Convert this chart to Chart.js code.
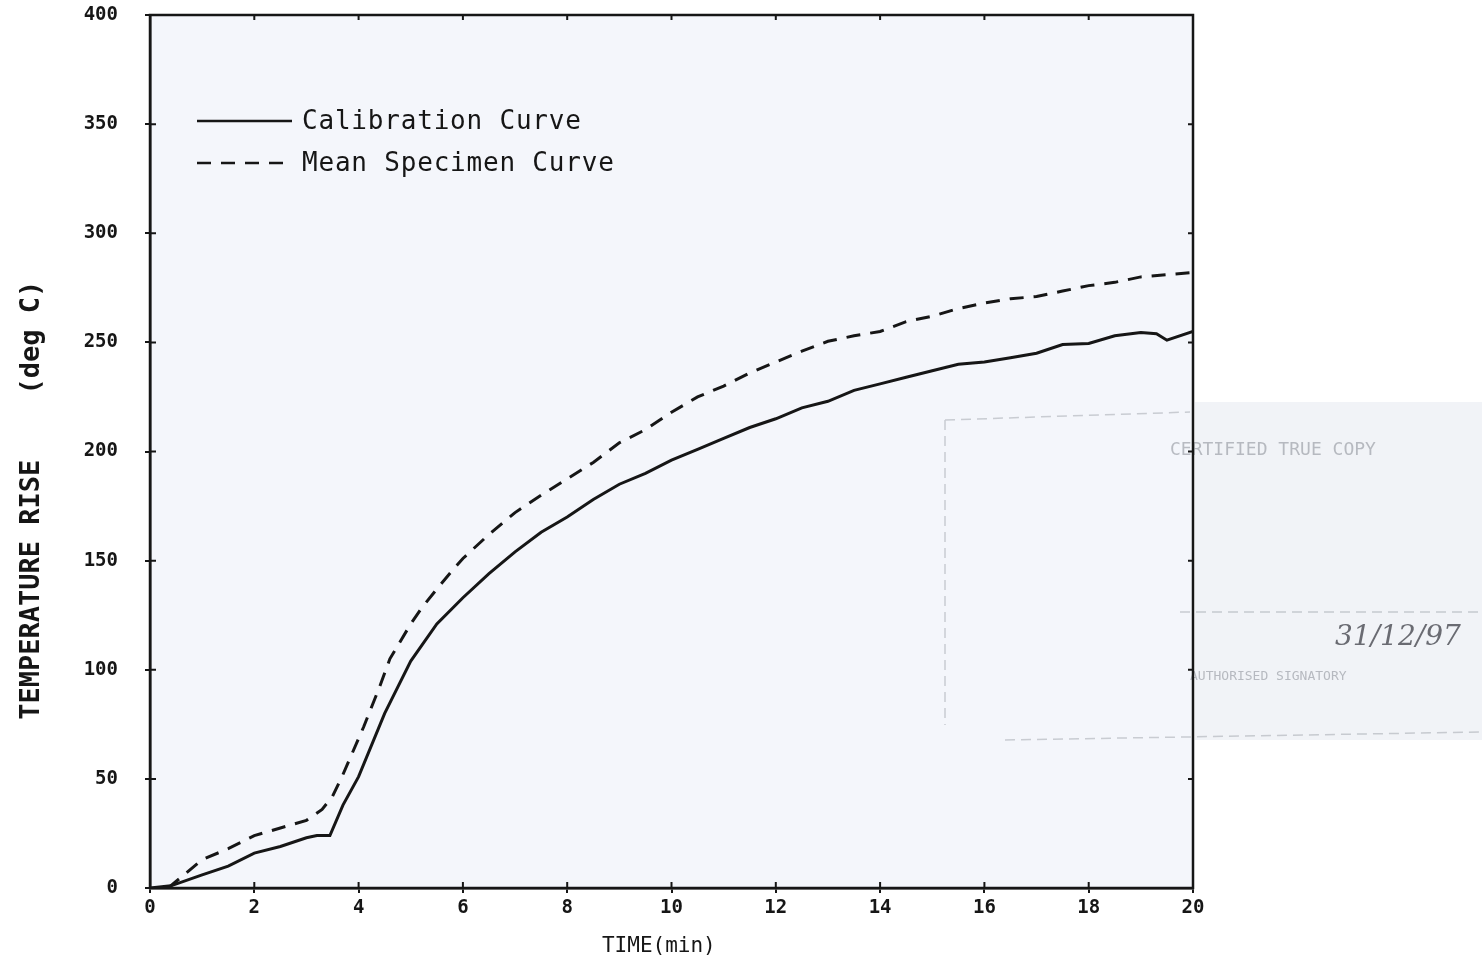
<!DOCTYPE html>
<html>
<head>
<meta charset="utf-8">
<script src="https://cdn.jsdelivr.net/npm/chart.js@4.4.1/dist/chart.umd.min.js"></script>
<style>
  html, body { margin: 0; padding: 0; background: #fff; }
  #wrap { width: 1482px; height: 963px; }
</style>
</head>
<body>
<div id="wrap"><canvas id="lineChart" width="1482" height="963"></canvas></div>
<script>
// values
var calibTime = [0, 0.4, 1.0, 1.5, 2.0, 2.5, 3.0, 3.2, 3.45, 3.7, 4.0, 4.5, 5.0, 5.5, 6.0, 6.5, 7.0, 7.5, 8.0, 8.5,
                 9.0, 9.5, 10.0, 10.5, 11.0, 11.5, 12.0, 12.5, 13.0, 13.5, 14.0, 14.5, 15.0, 15.5, 16.0, 16.5,
                 17.0, 17.5, 18.0, 18.5, 19.0, 19.3, 19.5, 20.0];
var calibTemp = [0, 1, 6, 10, 16, 19, 23, 24, 24, 38, 51, 80, 104, 121, 133, 144, 154, 163, 170, 178,
                 185, 190, 196, 201, 206, 211, 215, 220, 223, 228, 231, 234, 237, 240, 241, 243,
                 245, 249, 249.5, 253, 254.5, 254, 251, 255];
var meanTime = [0.35, 0.6, 1.0, 1.5, 2.0, 2.5, 3.0, 3.3, 3.5, 3.7, 3.9, 4.1, 4.4, 4.6, 5.0, 5.2, 5.5, 5.85, 6.0,
                6.5, 7.0, 7.5, 8.0, 8.5, 9.0, 9.5, 10.0, 10.5, 11.0, 11.5, 12.0, 12.5, 13.0, 13.5, 14.0,
                14.5, 15.0, 15.5, 16.0, 16.5, 17.0, 17.5, 18.0, 18.5, 19.0, 19.5, 20.0];
var meanTemp = [0, 5, 13, 18, 24, 27.5, 31, 36, 42, 52, 63, 74, 92, 105, 121, 128, 137, 147, 151,
                162, 172, 180, 187.5, 195, 204, 210, 218, 225, 230, 236, 241, 246, 250.5, 253, 255,
                259.5, 262, 265.5, 268, 270, 271, 273.5, 276, 277.5, 280, 281, 282];
var xMin = 0, xMax = 20, xStep = 2;
var yMin = 0, yMax = 400, yStep = 50;

function pairs(xs, ys) {
  var out = [];
  for (var i in xs) {
    out.push({x: xs[i], y: ys[i]});
  }
  return out;
}

var ink = '#161616';
var monoFont = '"DejaVu Sans Mono", "Liberation Mono", monospace';

// paper, faint certification stamp, full frame and inside legend
var paperPlugin = {
  id: 'paper',
  beforeDraw: function(chart) {
    var ctx = chart.ctx, a = chart.chartArea;
    ctx.save();
    ctx.fillStyle = '#ffffff';
    ctx.fillRect(0, 0, chart.width, chart.height);
    ctx.fillStyle = '#f4f6fb';
    ctx.fillRect(a.left, a.top, a.right - a.left, a.bottom - a.top);
    // stamp
    ctx.fillStyle = '#f1f3f7';
    ctx.fillRect(a.right + 2, 402, chart.width - a.right - 2, 338);
    ctx.strokeStyle = 'rgba(120,125,135,0.35)';
    ctx.lineWidth = 1.5;
    ctx.setLineDash([10, 6]);
    ctx.beginPath();
    ctx.moveTo(945, 420); ctx.lineTo(945, 725);
    ctx.moveTo(945, 420); ctx.lineTo(1190, 412);
    ctx.moveTo(1005, 740); ctx.lineTo(1482, 732);
    ctx.moveTo(1180, 612); ctx.lineTo(1482, 612);
    ctx.stroke();
    ctx.setLineDash([]);
    ctx.fillStyle = 'rgba(110,115,125,0.45)';
    ctx.font = '18px ' + monoFont;
    ctx.fillText('CERTIFIED TRUE COPY', 1170, 455);
    ctx.font = '13px ' + monoFont;
    ctx.fillText('AUTHORISED SIGNATORY', 1190, 680);
    ctx.fillStyle = 'rgba(60,62,70,0.75)';
    ctx.font = 'italic 28px "DejaVu Serif", serif';
    ctx.fillText('31/12/97', 1335, 645);
    ctx.restore();
  },
  afterDatasetsDraw: function(chart) {
    var ctx = chart.ctx, a = chart.chartArea;
    var xs = chart.scales.x, ys = chart.scales.y;
    ctx.save();
    ctx.strokeStyle = ink;
    ctx.lineWidth = 2.5;
    ctx.strokeRect(a.left, a.top, a.right - a.left, a.bottom - a.top);
    // inner tick marks on all four sides
    ctx.lineWidth = 2;
    ctx.beginPath();
    for (var v = xMin; v <= xMax; v += xStep) {
      var px = xs.getPixelForValue(v);
      ctx.moveTo(px, a.bottom); ctx.lineTo(px, a.bottom - 6);
      ctx.moveTo(px, a.top); ctx.lineTo(px, a.top + 5);
    }
    for (var w = yMin; w <= yMax; w += yStep) {
      var py = ys.getPixelForValue(w);
      ctx.moveTo(a.left, py); ctx.lineTo(a.left + 6, py);
      ctx.moveTo(a.right, py); ctx.lineTo(a.right - 5, py);
    }
    ctx.stroke();
    // legend
    var rowY = [121, 163];
    ctx.font = '26px ' + monoFont;
    ctx.letterSpacing = '0.8px';
    ctx.textBaseline = 'middle';
    chart.data.datasets.forEach(function(ds, i) {
      ctx.strokeStyle = ds.borderColor;
      ctx.lineWidth = 2.5;
      ctx.setLineDash(ds.borderDash || []);
      ctx.beginPath();
      ctx.moveTo(197, rowY[i]);
      ctx.lineTo(292, rowY[i]);
      ctx.stroke();
      ctx.setLineDash([]);
      ctx.fillStyle = ink;
      ctx.fillText(ds.label, 302, rowY[i] + 1);
    });
    ctx.restore();
  }
};

var chartdata = {
  datasets: [
    {
      label: 'Calibration Curve',
      data: pairs(calibTime, calibTemp),
      borderColor: ink,
      borderWidth: 3,
      pointRadius: 0,
      tension: 0,
      fill: false
    },
    {
      label: 'Mean Specimen Curve',
      data: pairs(meanTime, meanTemp),
      borderColor: ink,
      borderWidth: 3,
      borderDash: [14, 10],
      pointRadius: 0,
      tension: 0,
      fill: false
    }
  ]
};

var ctx = document.getElementById('lineChart');
var LineGraph = new Chart(ctx, {
  type: 'line',
  data: chartdata,
  plugins: [paperPlugin],
  options: {
    responsive: false,
    animation: false,
    devicePixelRatio: 1,
    layout: { padding: { top: 15, right: 289, left: 0, bottom: 0 } },
    plugins: { legend: { display: false }, tooltip: { enabled: false } },
    scales: {
      x: {
        type: 'linear',
        min: xMin, max: xMax,
        afterFit: function(scale) { scale.height = 75; scale.paddingLeft = 0; scale.paddingRight = 0; },
        ticks: {
          stepSize: xStep,
          maxRotation: 0,
          padding: 4,
          color: ink,
          font: { family: monoFont, size: 19, weight: 'bold' }
        },
        grid: { drawOnChartArea: false, tickLength: 5, color: ink, lineWidth: 2 },
        border: { display: true, color: ink, width: 2.5 },
        title: {
          display: true,
          text: 'TIME(min)  ',
          color: ink,
          padding: { top: 0, bottom: 4 },
          font: { family: monoFont, size: 21 }
        }
      },
      y: {
        type: 'linear',
        min: yMin, max: yMax,
        afterFit: function(scale) { scale.width = 150; scale.paddingTop = 0; scale.paddingBottom = 0; },
        ticks: {
          stepSize: yStep,
          padding: 27,
          color: ink,
          font: { family: monoFont, size: 19, weight: 'bold' }
        },
        grid: { drawOnChartArea: false, tickLength: 5, color: ink, lineWidth: 2 },
        border: { display: true, color: ink, width: 2.5 },
        title: {
          display: true,
          text: 'TEMPERATURE RISE    (deg C)      ',
          color: ink,
          padding: { top: 16, bottom: 0 },
          font: { family: monoFont, size: 27, weight: 'bold' }
        }
      }
    }
  }
});
</script>
</body>
</html>
